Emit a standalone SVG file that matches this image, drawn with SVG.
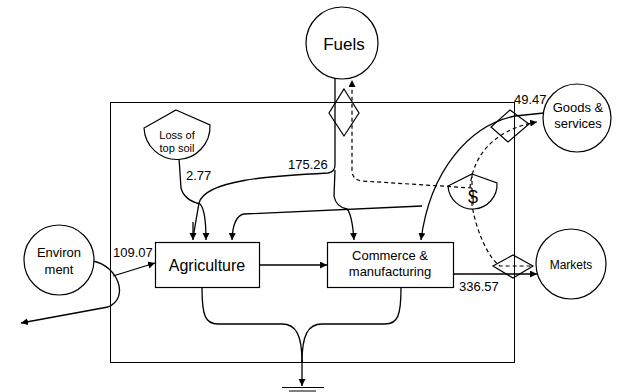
<svg xmlns="http://www.w3.org/2000/svg" width="617" height="392" viewBox="0 0 617 392">
<defs>
<marker id="ah" markerWidth="8" markerHeight="8" refX="7" refY="3.5" orient="auto" markerUnits="userSpaceOnUse">
<path d="M0,0 L7,3.5 L0,7 z" fill="#000"/>
</marker>
<style>
.n{fill:#fff;stroke:#000;stroke-width:1.2}
.o{fill:none;stroke:#000;stroke-width:1.2}
.t{font-family:"Liberation Sans",Arial,sans-serif;fill:#000;text-anchor:middle}
.lbl{font-family:"Liberation Sans",Arial,sans-serif;fill:#000;font-size:13px}
.c{fill:none;stroke:#000;stroke-width:1.3}
.d{fill:none;stroke:#000;stroke-width:1.2;stroke-dasharray:4,3}
.a{marker-end:url(#ah)}
</style>
</defs>
<rect width="617" height="392" fill="#fff"/>
<g id="frame"><rect x="110.5" y="102.5" width="404" height="260" fill="none" stroke="#000" stroke-width="1"/></g>
<g id="connectors">
<path class="c" d="M335,78 L335,165 Q335,172 328,173 C270,176 205,180 199,203 L193,238"/>
<path class="c a" d="M193,222 L193,240"/>
<path class="c a" d="M335,170 L334,196 Q336,207 347,209 Q352,214 354,240"/>
<path class="c a" d="M179,158 L181,188 Q184,200 200,204 Q206,210 206,240"/>
<path class="c a" d="M422,206 L244,214 Q233,216 232,240"/>
<path class="c a" d="M544,113 L515,116 C470,125 430,170 421,240"/>
<path class="c a" d="M113,276 L155,263"/>
<path class="c a" d="M93,261 C118,266 130,298 108,307 L21,323"/>
<path class="c a" d="M260,265 L327,265"/>
<path class="c a" d="M453,274 L537,274"/>
<path class="c" d="M202,288 C202,315 205,324 218,324 L282,324 C296,324 302,335 302,362"/>
<path class="c" d="M401,288 C401,315 398,324 385,324 L322,324 C308,324 302,335 302,362"/>
<path class="c a" d="M302,360 L302,386"/>
<path class="d a" d="M472,188 L362,181 Q352,180 352,170 L352,80"/>
<path class="d" d="M472,174 L472,205 C476,230 488,258 500,266 L531,266"/>
<path class="d a" d="M470,188 C472,160 490,130 537,122"/>
</g>
<g id="fuels">
<circle class="n" cx="342" cy="43" r="36"/>
<text class="t" x="344" y="50" font-size="17">Fuels</text>
<path class="o" d="M344,89 L359,113 L344,136 L329,113 Z"/>
</g>
<g id="goods">
<circle class="n" cx="577" cy="118" r="34"/>
<text class="t" x="578" y="112" font-size="13">Goods &amp;</text>
<text class="t" x="578" y="128" font-size="13">services</text>
<path class="o" d="M510,110 L529,124 L508,142 L491,127 Z"/>
</g>
<g id="markets">
<circle class="n" cx="571" cy="264" r="35"/>
<text class="t" x="571" y="269" font-size="12">Markets</text>
<path class="o" d="M493,266 L513,255 L533,266 L513,278 Z"/>
</g>
<g id="environment">
<circle class="n" cx="59" cy="260" r="35"/>
<text class="t" x="59" y="257" font-size="13">Environ</text>
<text class="t" x="59" y="274" font-size="13">ment</text>
</g>
<g id="loss">
<path class="n" d="M176,110 L210,125 A30,30 0 0 1 144,128 Z"/>
<text class="t" x="177" y="139" font-size="11">Loss of</text>
<text class="t" x="177" y="152" font-size="11">top soil</text>
</g>
<g id="money">
<path class="o" d="M472,174 L497,183 A20,20 0 0 1 448,186 Z"/>
<text class="t" x="473" y="203" font-size="18">$</text>
</g>
<g id="agriculture">
<rect class="n" x="155.5" y="242.5" width="104" height="45"/>
<text class="t" x="207" y="271" font-size="16">Agriculture</text>
</g>
<g id="commerce">
<rect class="n" x="327.5" y="242.5" width="126" height="45"/>
<text class="t" x="390" y="260" font-size="13">Commerce &amp;</text>
<text class="t" x="390" y="276" font-size="13">manufacturing</text>
</g>
<g id="ground">
<line x1="282" y1="387.5" x2="324" y2="387.5" stroke="#000" stroke-width="1.2"/>
<line x1="289" y1="391" x2="316" y2="391" stroke="#000" stroke-width="1"/>
</g>
<g id="labels">
<text class="lbl" x="288" y="169">175.26</text>
<text class="lbl" x="186" y="180">2.77</text>
<text class="lbl" x="113" y="257">109.07</text>
<text class="lbl" x="514" y="104">49.47</text>
<text class="lbl" x="459" y="291">336.57</text>
</g>
</svg>
